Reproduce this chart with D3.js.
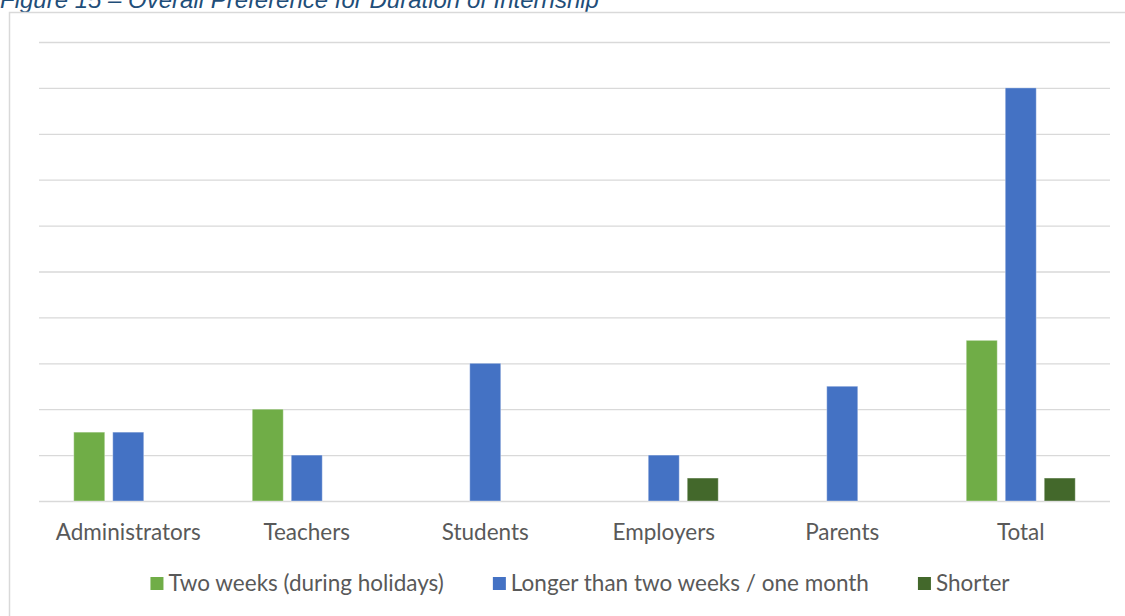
<!DOCTYPE html>
<html><head><meta charset="utf-8">
<script src="https://cdn.jsdelivr.net/npm/d3@7"></script>
<style>body{margin:0;background:#fff}svg{display:block}</style>
</head><body>
<script>
const categories = ["Administrators","Teachers","Students","Employers","Parents","Total"];
const seriesNames = ["Two weeks (during holidays)","Longer than two weeks / one month","Shorter"];
const twoWeeks = [3,4,0,0,0,7];
const longer = [3,2,6,2,5,18];
const shorter = [0,0,0,1,0,1];
const yTicks = [0,2,4,6,8,10,12,14,16,18,20];
const colors = ["#70AD47","#4472C4","#43682B"];
const seriesValues = [twoWeeks, longer, shorter];

const W = 1125, H = 616;
const svg = d3.select("body").append("svg").attr("width", W).attr("height", H);

// title
svg.append("text").attr("x", 0).attr("y", 8)
  .attr("font-family", "Arial, 'Liberation Sans', sans-serif")
  .attr("font-style", "italic").attr("font-size", 24).attr("fill", "#1F4E79")
  .text("Figure 15 – Overall Preference for Duration of Internship");

// chart border
svg.append("rect").attr("x", 9.5).attr("y", 12.5).attr("width", 1120).attr("height", 610)
  .attr("fill", "none").attr("stroke", "#D9D9D9").attr("stroke-width", 1.5);

const x0 = d3.scaleBand().domain(categories).range([39, 1110]).padding(0);
const barW = 31, gap = 8, groupW = barW*3 + gap*2;
const x1 = d3.scaleBand().domain(seriesNames).range([0, groupW]).paddingInner(gap/(barW+gap)).paddingOuter(0);
const y = d3.scaleLinear().domain([0,20]).range([501, 42]);

// gridlines
const yAxis = d3.axisLeft(y).tickValues(yTicks).tickSize(-(1110-39)).tickFormat("");
const g = svg.append("g").attr("transform", "translate(39,0)").call(yAxis);
g.select(".domain").remove();
g.selectAll(".tick line").attr("stroke", "#D9D9D9").attr("stroke-width", 1.3);

// bars
seriesNames.forEach((s, si) => {
  svg.append("g").selectAll("rect").data(categories.map((c,i)=>({c, v: seriesValues[si][i]})).filter(d=>d.v>0))
    .join("rect")
    .attr("x", d => x0(d.c) + (x0.bandwidth()-groupW)/2 + x1(s))
    .attr("width", x1.bandwidth())
    .attr("y", d => y(d.v))
    .attr("height", d => y(0) - y(d.v))
    .attr("fill", colors[si])
    .attr("stroke", "#ffffff").attr("stroke-opacity", 0.35).attr("stroke-width", 1);
});

// x axis labels
const xAxis = d3.axisBottom(x0).tickSize(0).tickPadding(0);
const xg = svg.append("g").attr("transform", "translate(0,501)").call(xAxis);
xg.select(".domain").remove();
xg.selectAll(".tick text").attr("y", 39).attr("dy", 0)
  .attr("font-family", "Lato, 'Open Sans', sans-serif").attr("font-size", 22.5).attr("fill", "#595959");

// legend
const lg = svg.append("g");
let items = [];
seriesNames.forEach((s, i) => {
  const it = lg.append("g");
  it.append("rect").attr("x", 0).attr("y", -14).attr("width", 13).attr("height", 13).attr("fill", colors[i]);
  const t = it.append("text").attr("x", 18).attr("y", 0)
    .attr("font-family", "Lato, 'Open Sans', sans-serif").attr("font-size", 22.5).attr("fill", "#595959").text(s);
  items.push({it, w: 18 + t.node().getComputedTextLength()});
});
const itemGap = 49;
const total = d3.sum(items, d=>d.w) + itemGap*(items.length-1);
let cx = 580 - total/2;
items.forEach(d => { d.it.attr("transform", `translate(${cx},591)`); cx += d.w + itemGap; });
</script>
</body></html>
